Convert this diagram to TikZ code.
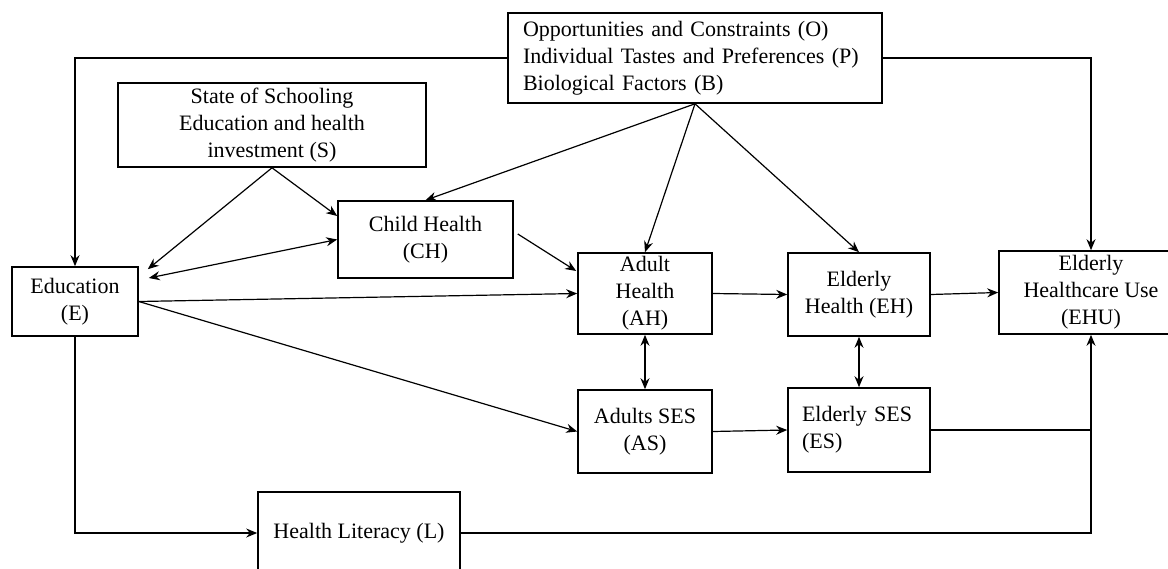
\documentclass[tikz,border=0pt]{standalone}
\usepackage{fontspec}
\setmainfont{Liberation Serif}
\usetikzlibrary{arrows.meta,calc}

\begin{document}
\begin{tikzpicture}[x=0.5pt,y=-0.5pt,
  every node/.style={font=\fontsize{11}{13.5}\selectfont},
  box/.style={draw,line width=0.8pt,inner sep=0pt,align=center},
  arr/.style={-{Stealth[length=5.5pt,width=4.5pt]},line width=0.6pt},
  both/.style={{Stealth[length=5.5pt,width=4.5pt]}-{Stealth[length=5.5pt,width=4.5pt]},line width=0.6pt}]
\useasboundingbox (0,0) rectangle (1168,568);
\node[box,align=left,text width=172pt,inner xsep=7.5pt,minimum height=45pt] (opb) at (695,58)
  {Opportunities and Constraints (O)\\Individual Tastes and Preferences (P)\\Biological Factors (B)};
\node[box,minimum width=154pt,minimum height=42pt] (sch) at (272,125)
  {State of Schooling\\Education and health\\investment (S)};
\node[box,minimum width=87.5pt,minimum height=38.5pt] (ch) at (425.5,239.5) {Child Health\\(CH)};
\node[box,minimum width=63pt,minimum height=34.5pt] (edu) at (75,301.5) {Education\\(E)};
\node[box,minimum width=67pt,minimum height=40.5pt] (ah) at (645,293.5) {Adult\\Health\\(AH)};
\node[box,minimum width=71pt,minimum height=41.5pt] (eh) at (859,294.5) {Elderly\\Health (EH)};
\node[box,minimum width=92pt,minimum height=41.5pt] (ehu) at (1091,292.5) {Elderly\\Healthcare Use\\(EHU)};
\node[box,minimum width=67pt,minimum height=41.5pt] (as) at (645,431.5) {Adults SES\\(AS)};
\node[box,align=left,text width=57pt,inner xsep=7pt,minimum height=42pt] (es) at (859,430) {Elderly SES\\(ES)};
\node[box,minimum width=101pt,minimum height=41pt] (hl) at (359,533) {Health Literacy (L)};

\foreach \a/\b in {opb.south/ch.north,opb.south/ah.north,opb.south/eh.north,
  edu.east/ah.west,edu.east/as.west,ah.east/eh.west,eh.east/ehu.west,as.east/es.west}
  \draw[arr] (\a) -- (\b);
\draw[arr] (opb.west) -| (edu.north);
\draw[arr] (opb.east) -| (ehu.north);
\draw[arr] (sch.south) -- ($(edu.north east)+(9,3)$);
\draw[arr] (sch.south) -- ($(ch.west)+(0,-23.5)$);
\draw[both] ($(edu.east)+(10,-23.5)$) -- (ch.west);
\draw[arr] ($(ch.east)+(4,-5.5)$) -- ($(ah.west)+(-1,-22.5)$);
\draw[both] (ah.south) -- (as.north);
\draw[both] (eh.south) -- (es.north);
\coordinate (join) at (es.east -| ehu.south);
\draw[arr] (es.east) -- (join) -- (ehu.south);
\draw[arr] (edu.south) |- (hl.west);
\draw[line width=0.6pt] (hl.east) -| (join);
\end{tikzpicture}
\end{document}
